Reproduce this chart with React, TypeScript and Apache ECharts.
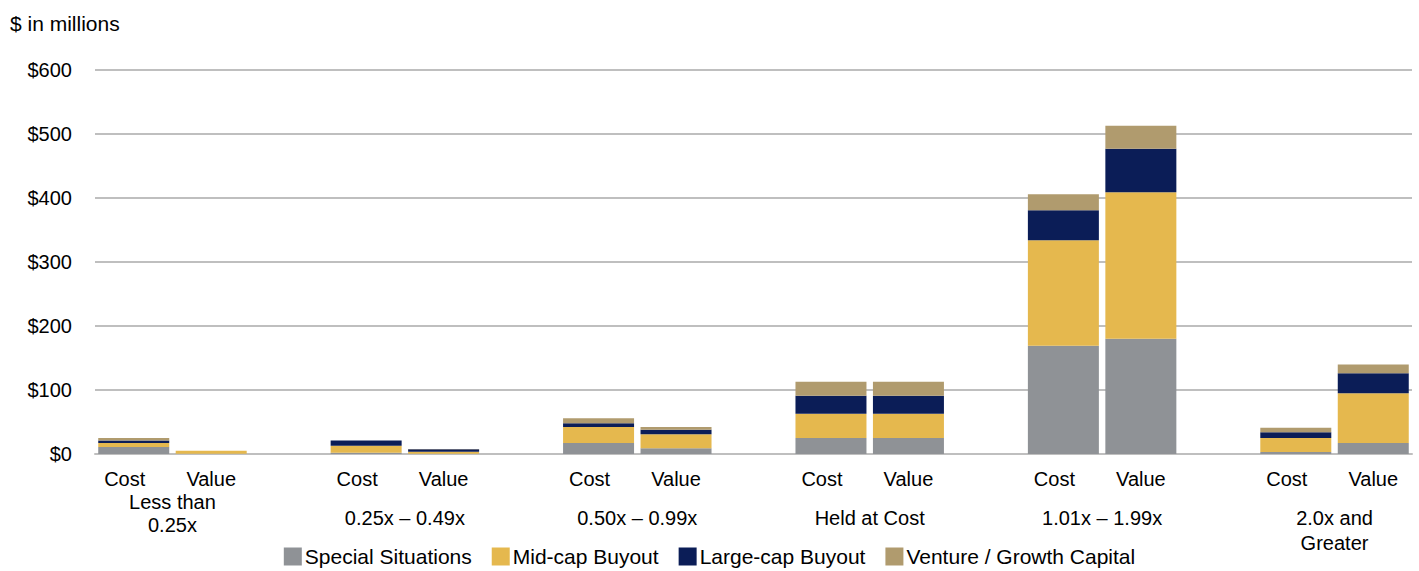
import React, { useEffect, useRef } from "react";
import * as echarts from "echarts";

const groupLabels = ["Less than\n0.25x", "0.25x – 0.49x", "0.50x – 0.99x", "Held at Cost", "1.01x – 1.99x", "2.0x and\nGreater"];
const barLabels = ["Cost", "Value"];
const yTicks = [0, 100, 200, 300, 400, 500, 600];

// order: per group Cost, Value
const specialSituations = [11, 0.5, 2, 0.5, 17, 9, 25, 25, 169, 180, 3, 17];
const midCapBuyout = [6, 4.5, 11, 3, 25, 22, 38, 38, 165, 229, 22, 78];
const largeCapBuyout = [4, 0, 8, 4, 6, 7, 28, 28, 47, 68, 9, 31];
const ventureGrowth = [4, 0, 0, 0.5, 8, 4, 22, 22, 25, 36, 7, 14];

const seriesNames = ["Special Situations", "Mid-cap Buyout", "Large-cap Buyout", "Venture / Growth Capital"];
const seriesColors = ["#8F9296", "#E5B84E", "#0B1D57", "#B09B6E"];

const FONT = "'Liberation Sans', Arial, sans-serif";

function expand(vals: number[]): (number | null)[] {
  const out: (number | null)[] = [];
  for (let g = 0; g < groupLabels.length; g++) {
    out.push(vals[2 * g], vals[2 * g + 1]);
    if (g < groupLabels.length - 1) out.push(null);
  }
  return out;
}

function slotCategories(): string[] {
  const out: string[] = [];
  for (let g = 0; g < groupLabels.length; g++) {
    out.push(barLabels[0], barLabels[1]);
    if (g < groupLabels.length - 1) out.push("");
  }
  return out;
}

function boundaryCats(filter: (g: number) => boolean): string[] {
  const n = groupLabels.length * 3;
  const out: string[] = new Array(n).fill("");
  groupLabels.forEach((l, g) => {
    if (filter(g)) out[3 * g + 1] = l;
  });
  return out;
}

export default function App() {
  const ref = useRef<HTMLDivElement>(null);
  useEffect(() => {
    document.body.style.margin = "0";
    if (!ref.current) return;
    const chart = echarts.init(ref.current, null, { renderer: "svg" });
    const allSeries = [specialSituations, midCapBuyout, largeCapBuyout, ventureGrowth];
    chart.setOption({
      animation: false,
      textStyle: { fontFamily: FONT },
      title: {
        text: "$ in millions",
        left: 5,
        top: 8,
        textStyle: { fontFamily: FONT, fontSize: 21, fontWeight: "normal", color: "#000" },
      },
      legend: {
        top: 541,
        left: "center",
        itemWidth: 18,
        itemHeight: 18,
        itemGap: 20,
        icon: "rect",
        textStyle: { fontFamily: FONT, fontSize: 21, color: "#000", padding: [0, 0, 0, -2] },
        data: seriesNames,
      },
      grid: { left: 95, right: 7, top: 70, bottom: 117, containLabel: false },
      xAxis: [
        {
          type: "category",
          data: slotCategories(),
          axisLine: { show: true, lineStyle: { color: "#BFBFBF", width: 2 } },
          axisTick: { show: false },
          axisLabel: {
            interval: 0,
            margin: 15,
            fontSize: 20,
            fontFamily: FONT,
            color: "#000",
            formatter: (v: string) => (v === barLabels[0] ? "{c|" + v + "}" : v),
            rich: { c: { fontSize: 20, fontFamily: FONT, color: "#000", padding: [0, 18, 0, 0] } },
          },
        },
        {
          type: "category",
          boundaryGap: false,
          position: "bottom",
          data: boundaryCats((g) => g !== 0),
          axisLine: { show: false },
          axisTick: { show: false },
          axisLabel: { interval: 0, margin: 51, fontSize: 20, lineHeight: 25, fontFamily: FONT, color: "#000" },
        },
        {
          type: "category",
          boundaryGap: false,
          position: "bottom",
          data: boundaryCats((g) => g === 0),
          axisLine: { show: false },
          axisTick: { show: false },
          axisLabel: { interval: 0, margin: 36, fontSize: 20, lineHeight: 23, fontFamily: FONT, color: "#000" },
        },
      ],
      yAxis: {
        type: "value",
        min: yTicks[0],
        max: yTicks[yTicks.length - 1],
        interval: 100,
        axisLine: { show: false },
        axisTick: { show: false },
        splitLine: { lineStyle: { color: "#BFBFBF", width: 2 } },
        axisLabel: {
          margin: 23,
          fontSize: 20,
          fontFamily: FONT,
          color: "#000",
          formatter: (v: number) => "$" + v,
        },
      },
      series: allSeries.map((vals, i) => ({
        name: seriesNames[i],
        type: "bar",
        stack: "total",
        barWidth: 71,
        itemStyle: { color: seriesColors[i] },
        emphasis: { disabled: true },
        data: expand(vals),
      })),
    });
    return () => chart.dispose();
  }, []);
  return <div ref={ref} style={{ width: 1419, height: 571 }} />;
}
